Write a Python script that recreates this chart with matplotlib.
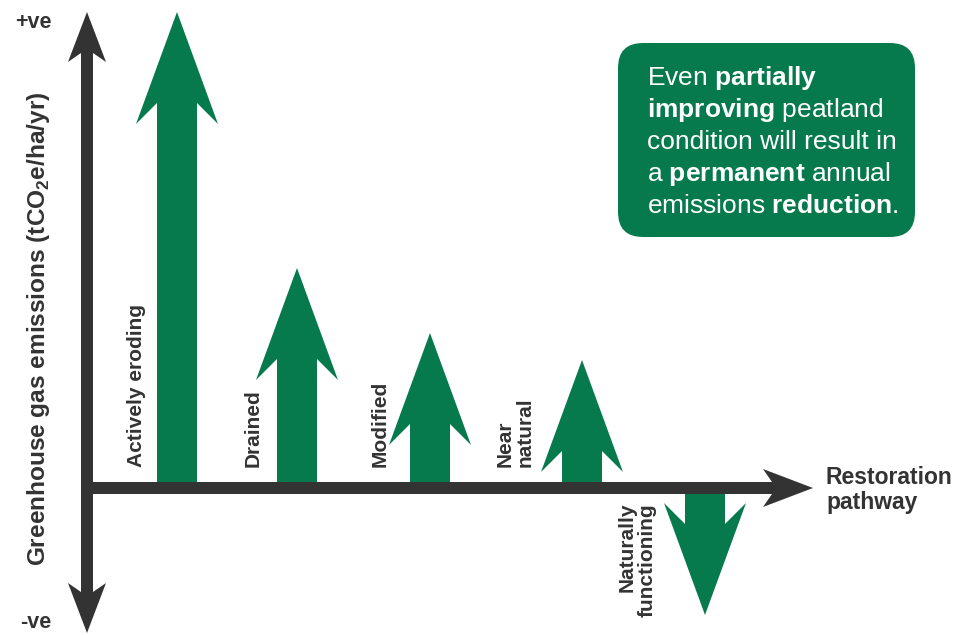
import matplotlib
matplotlib.use("Agg")
import matplotlib.pyplot as plt
from matplotlib.patches import Polygon, FancyBboxPatch

# --- Data: relative emission level reached by each restoration stage ---
stages = ["Actively eroding", "Drained", "Modified", "Near\nnatural", "Naturally\nfunctioning"]
emissions = [476, 220, 155, 128, -127]

box_lines = [
    r"Even $\mathbf{partially}$",
    r"$\mathbf{improving}$ peatland",
    "condition will result in",
    r"a $\mathbf{permanent}$ annual",
    r"emissions $\mathbf{reduction}$.",
]

# --- Layout / style ---
stage_x = [177, 297, 430, 582, 705]
GREEN = "#067a4c"
DARK = "#333333"

plt.rcParams["font.family"] = ["Liberation Sans", "DejaVu Sans"]
plt.rcParams["mathtext.fontset"] = "custom"
plt.rcParams["mathtext.rm"] = "Liberation Sans"
plt.rcParams["mathtext.bf"] = "Liberation Sans:bold"


def arrow_pts(xc, base, tip, sw, hw, hl, notch):
    # notched arrow pointing from base to tip along y
    s = 1 if tip > base else -1
    return [(xc - sw, base), (xc - sw, tip - s * (hl - notch)), (xc - hw, tip - s * hl),
            (xc, tip), (xc + hw, tip - s * hl), (xc + sw, tip - s * (hl - notch)),
            (xc + sw, base)]


fig = plt.figure(figsize=(9.62, 6.35), dpi=100)
ax = fig.add_axes([0, 0, 1, 1])
ax.set_xlim(0, 962)
ax.set_ylim(-147, 488)
ax.axis("off")

# green stage arrows
for xc, v in zip(stage_x, emissions):
    base = 6 if v > 0 else -6
    ax.add_patch(Polygon(arrow_pts(xc, base, v, 20, 41, 112, 21), closed=True,
                         facecolor=GREEN, edgecolor="none", zorder=2))

# vertical axis (double headed)
vx, top, bot = 87, 476, -145
sw, hw, hl, nt = 6, 19, 50, 9
vpts = [(vx - sw, bot + hl - nt), (vx - hw, bot + hl), (vx, bot), (vx + hw, bot + hl),
        (vx + sw, bot + hl - nt), (vx + sw, top - hl + nt), (vx + hw, top - hl),
        (vx, top), (vx - hw, top - hl), (vx - sw, top - hl + nt)]
ax.add_patch(Polygon(vpts, closed=True, facecolor=DARK, edgecolor="none", zorder=3))

# horizontal axis
hx0, hx1 = 82, 813
hpts = [(hx0, -sw), (hx1 - hl + nt, -sw), (hx1 - hl, -hw), (hx1, 0),
        (hx1 - hl, hw), (hx1 - hl + nt, sw), (hx0, sw)]
ax.add_patch(Polygon(hpts, closed=True, facecolor=DARK, edgecolor="none", zorder=3))

# stage labels
lab_x = [137, 253, 380, 515]
for lx, name in zip(lab_x, stages[:4]):
    ax.text(lx, 21, name, rotation=90, ha="center", va="bottom", multialignment="left",
            fontsize=15, fontweight="bold", color=DARK, linespacing=1.05)
ax.text(637, -15, stages[4], rotation=90, ha="center", va="top", multialignment="right",
        fontsize=15, fontweight="bold", color=DARK, linespacing=1.05)

# axis labels
ax.text(826, -2, "Restoration\npathway", ha="left", va="center", fontsize=16.5,
        fontweight="bold", color=DARK, linespacing=1.1)
ax.text(33, 466, "+ve", ha="center", va="center", fontsize=15.5, fontweight="bold", color=DARK)
ax.text(36, -135, "-ve", ha="center", va="center", fontsize=15.5, fontweight="bold", color=DARK)
ax.text(39, 159, r"Greenhouse gas emissions (tC$\mathbf{O}_\mathbf{2}$e/ha/yr)", rotation=90,
        ha="center", va="center", fontsize=17.6, fontweight="bold", color=DARK)

# message box
ax.add_patch(FancyBboxPatch((618, 251), 297, 194, boxstyle="round,pad=0,rounding_size=25",
                            facecolor=GREEN, edgecolor="none", zorder=2))
for i, line in enumerate(box_lines):
    ax.text(647, 403 - i * 32, line, ha="left", va="baseline", fontsize=19,
            color="white", zorder=4)

fig.savefig("out.png", dpi=100)
